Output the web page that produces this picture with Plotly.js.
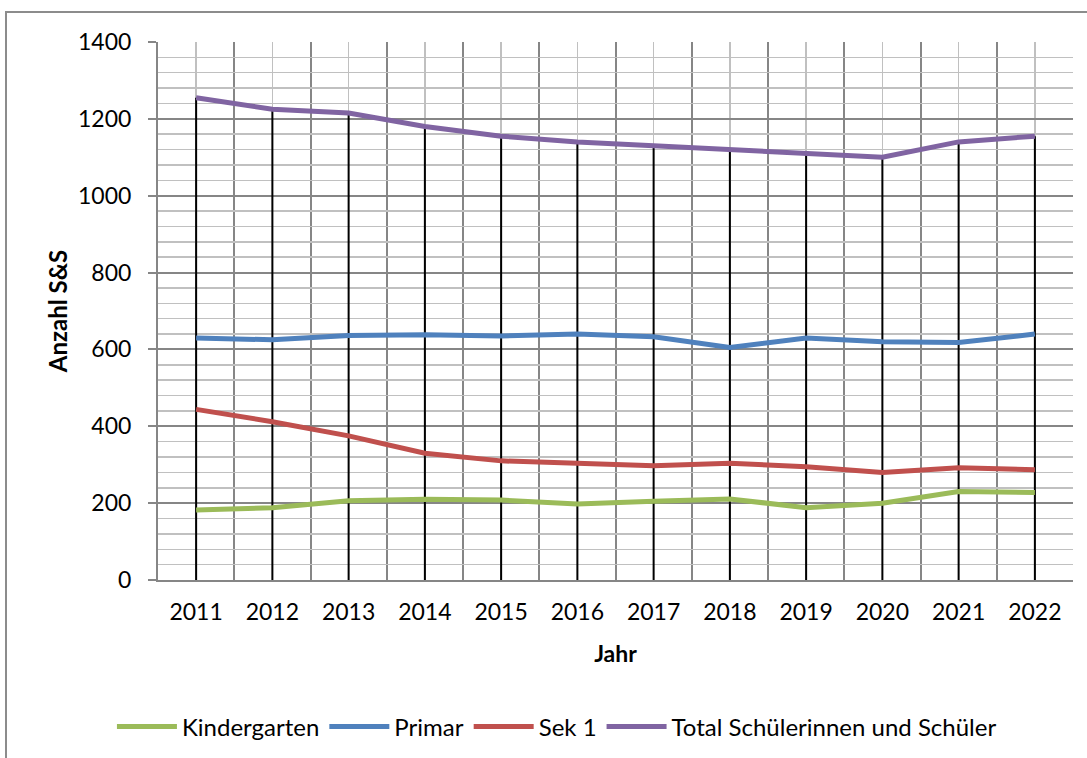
<!DOCTYPE html>
<html>
<head>
<meta charset="utf-8">
<script src="https://cdn.plot.ly/plotly-3.0.1.min.js"></script>
<style>
html,body{margin:0;padding:0;background:#fff;overflow:hidden;}
#frame{position:absolute;left:5px;top:11px;width:1200px;height:900px;border:2px solid #8c8c8c;box-sizing:border-box;pointer-events:none;z-index:5;}
#chart{position:absolute;left:0;top:0;width:1087px;height:758px;}
</style>
</head>
<body>
<div id="chart"></div>
<div id="frame"></div>
<script>
const years = [2011,2012,2013,2014,2015,2016,2017,2018,2019,2020,2021,2022];
const kindergarten = [182,188,206,210,208,198,205,211,188,200,230,228];
const primar = [630,625,636,638,635,640,633,605,630,620,618,640];
const sek1 = [444,412,375,330,310,303,297,304,295,280,292,287];
const total = [1255,1225,1215,1180,1155,1140,1130,1120,1112,1100,1140,1155];
const seriesNames = ["Kindergarten","Primar","Sek 1","Total Schülerinnen und Schüler"];
const yTicks = [0,200,400,600,800,1000,1200,1400];

const colors = ["#9bbb59","#4f81bd","#c0504d","#8064a2"];

// drop lines from 0 up to the total value of each year
const dropX = [], dropY = [];
years.forEach((yr,i)=>{ dropX.push(yr,yr,null); dropY.push(0,total[i],null); });

const series = [kindergarten, primar, sek1, total];
const data = [{
  x: dropX, y: dropY, mode: 'lines', type: 'scatter',
  line: {color:'#000000', width:2}, showlegend:false, hoverinfo:'skip'
}];
series.forEach((s,i)=>{
  data.push({
    x: years, y: s, name: seriesNames[i], type:'scatter', mode:'lines',
    line:{color:colors[i], width:5}
  });
});

const fontFam = 'Lato, "Open Sans", sans-serif';
const layout = {
  width:1087, height:758,
  margin:{l:158, r:14, t:42, b:178, autoexpand:false},
  paper_bgcolor:'#ffffff', plot_bgcolor:'#ffffff',
  font:{family:fontFam, color:'#000000', size:23},
  showlegend:true,
  legend:{orientation:'h', x:0.436, xanchor:'center', y:-0.273, yanchor:'middle',
    font:{family:fontFam, size:24, color:'#000'}, itemwidth:60},
  xaxis:{
    range:[2010.5,2022.5], tickmode:'array', tickvals:years, ticktext:years.map(String),
    showgrid:true, gridcolor:'#c0c0c0', gridwidth:1.5,
    minor:{tick0:2010.5, dtick:1, showgrid:true, gridcolor:'#868686', gridwidth:2},
    showline:true, linecolor:'#868686', linewidth:2,
    ticks:'', zeroline:false, ticklabelstandoff:10,
    tickfont:{size:23, family:fontFam},
    title:{text:'<b>Jahr</b>', font:{size:23, family:fontFam}, standoff:22}
  },
  yaxis:{
    range:[0,1400], tickmode:'array', tickvals:yTicks,
    showgrid:true, gridcolor:'#868686', gridwidth:2,
    minor:{dtick:40, showgrid:true, gridcolor:'#c0c0c0', gridwidth:1.5},
    showline:true, linecolor:'#868686', linewidth:2,
    ticks:'outside', ticklen:8, tickcolor:'#868686', tickwidth:2,
    zeroline:false, ticklabelstandoff:12, tickfont:{size:23, family:fontFam},
    title:{text:'<b>Anzahl S&amp;S</b>', font:{size:24, family:fontFam}, standoff:4}
  }
};
Plotly.newPlot('chart', data, layout, {displayModeBar:false, staticPlot:true});
</script>
</body>
</html>
